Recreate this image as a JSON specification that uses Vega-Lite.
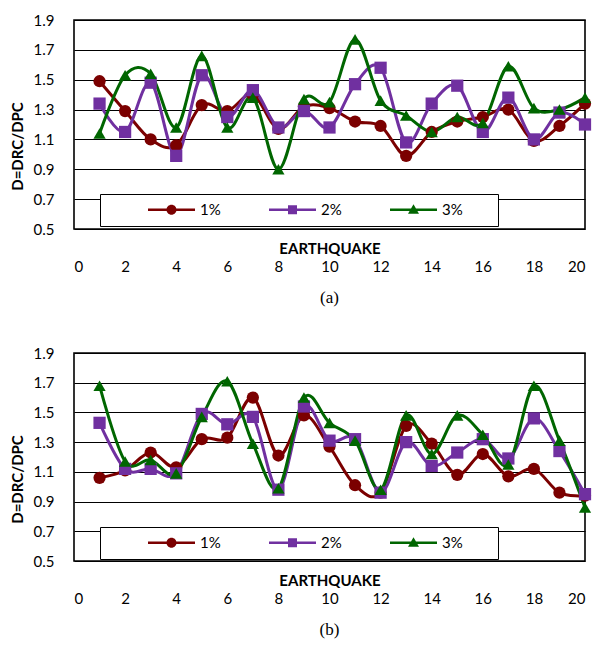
{
  "$schema": "https://vega.github.io/schema/vega-lite/v6.json",
  "padding": {"left": 9, "top": 12, "right": 5, "bottom": 5},
  "background": "white",
  "config": {
    "font": "Lato",
    "view": {"stroke": "black", "strokeWidth": 1.6},
    "axis": {"labelFont": "Lato", "labelFontSize": 15, "labelColor": "black", "titleFont": "Lato", "titleFontSize": 15, "titleFontWeight": "bold", "titleColor": "black", "ticks": false, "domain": false},
    "legend": {"orient": "none", "legendX": 26, "legendY": 174, "direction": "horizontal",
      "fillColor": "white", "strokeColor": "black", "padding": 8, "columnPadding": 8,
      "symbolSize": 100, "symbolOffset": 56, "labelOffset": 21, "labelFont": "Lato", "labelFontSize": 15, "labelColor": "black", "symbolOpacity": 1}
  },
  "datasets": {
    "a": [
      {"eq":1,"pct":"1%","D":1.49},{"eq":2,"pct":"1%","D":1.29},{"eq":3,"pct":"1%","D":1.10},{"eq":4,"pct":"1%","D":1.06},{"eq":5,"pct":"1%","D":1.33},
      {"eq":6,"pct":"1%","D":1.29},{"eq":7,"pct":"1%","D":1.40},{"eq":8,"pct":"1%","D":1.17},{"eq":9,"pct":"1%","D":1.32},{"eq":10,"pct":"1%","D":1.31},
      {"eq":11,"pct":"1%","D":1.22},{"eq":12,"pct":"1%","D":1.19},{"eq":13,"pct":"1%","D":0.99},{"eq":14,"pct":"1%","D":1.15},{"eq":15,"pct":"1%","D":1.22},
      {"eq":16,"pct":"1%","D":1.25},{"eq":17,"pct":"1%","D":1.30},{"eq":18,"pct":"1%","D":1.09},{"eq":19,"pct":"1%","D":1.19},{"eq":20,"pct":"1%","D":1.34},
      {"eq":1,"pct":"2%","D":1.34},{"eq":2,"pct":"2%","D":1.15},{"eq":3,"pct":"2%","D":1.48},{"eq":4,"pct":"2%","D":0.99},{"eq":5,"pct":"2%","D":1.53},
      {"eq":6,"pct":"2%","D":1.25},{"eq":7,"pct":"2%","D":1.43},{"eq":8,"pct":"2%","D":1.18},{"eq":9,"pct":"2%","D":1.29},{"eq":10,"pct":"2%","D":1.18},
      {"eq":11,"pct":"2%","D":1.47},{"eq":12,"pct":"2%","D":1.58},{"eq":13,"pct":"2%","D":1.08},{"eq":14,"pct":"2%","D":1.34},{"eq":15,"pct":"2%","D":1.46},
      {"eq":16,"pct":"2%","D":1.15},{"eq":17,"pct":"2%","D":1.38},{"eq":18,"pct":"2%","D":1.10},{"eq":19,"pct":"2%","D":1.28},{"eq":20,"pct":"2%","D":1.20},
      {"eq":1,"pct":"3%","D":1.14},{"eq":2,"pct":"3%","D":1.53},{"eq":3,"pct":"3%","D":1.54},{"eq":4,"pct":"3%","D":1.18},{"eq":5,"pct":"3%","D":1.66},
      {"eq":6,"pct":"3%","D":1.18},{"eq":7,"pct":"3%","D":1.38},{"eq":8,"pct":"3%","D":0.90},{"eq":9,"pct":"3%","D":1.37},{"eq":10,"pct":"3%","D":1.35},
      {"eq":11,"pct":"3%","D":1.77},{"eq":12,"pct":"3%","D":1.36},{"eq":13,"pct":"3%","D":1.26},{"eq":14,"pct":"3%","D":1.15},{"eq":15,"pct":"3%","D":1.25},
      {"eq":16,"pct":"3%","D":1.21},{"eq":17,"pct":"3%","D":1.59},{"eq":18,"pct":"3%","D":1.31},{"eq":19,"pct":"3%","D":1.30},{"eq":20,"pct":"3%","D":1.38}
    ],
    "b": [
      {"eq":1,"pct":"1%","D":1.06},{"eq":2,"pct":"1%","D":1.11},{"eq":3,"pct":"1%","D":1.23},{"eq":4,"pct":"1%","D":1.13},{"eq":5,"pct":"1%","D":1.32},
      {"eq":6,"pct":"1%","D":1.33},{"eq":7,"pct":"1%","D":1.60},{"eq":8,"pct":"1%","D":1.21},{"eq":9,"pct":"1%","D":1.48},{"eq":10,"pct":"1%","D":1.27},
      {"eq":11,"pct":"1%","D":1.01},{"eq":12,"pct":"1%","D":0.96},{"eq":13,"pct":"1%","D":1.41},{"eq":14,"pct":"1%","D":1.29},{"eq":15,"pct":"1%","D":1.08},
      {"eq":16,"pct":"1%","D":1.22},{"eq":17,"pct":"1%","D":1.07},{"eq":18,"pct":"1%","D":1.12},{"eq":19,"pct":"1%","D":0.96},{"eq":20,"pct":"1%","D":0.94},
      {"eq":1,"pct":"2%","D":1.43},{"eq":2,"pct":"2%","D":1.12},{"eq":3,"pct":"2%","D":1.12},{"eq":4,"pct":"2%","D":1.09},{"eq":5,"pct":"2%","D":1.49},
      {"eq":6,"pct":"2%","D":1.42},{"eq":7,"pct":"2%","D":1.47},{"eq":8,"pct":"2%","D":0.98},{"eq":9,"pct":"2%","D":1.54},{"eq":10,"pct":"2%","D":1.31},
      {"eq":11,"pct":"2%","D":1.32},{"eq":12,"pct":"2%","D":0.96},{"eq":13,"pct":"2%","D":1.30},{"eq":14,"pct":"2%","D":1.14},{"eq":15,"pct":"2%","D":1.23},
      {"eq":16,"pct":"2%","D":1.32},{"eq":17,"pct":"2%","D":1.19},{"eq":18,"pct":"2%","D":1.46},{"eq":19,"pct":"2%","D":1.24},{"eq":20,"pct":"2%","D":0.95},
      {"eq":1,"pct":"3%","D":1.68},{"eq":2,"pct":"3%","D":1.17},{"eq":3,"pct":"3%","D":1.18},{"eq":4,"pct":"3%","D":1.09},{"eq":5,"pct":"3%","D":1.47},
      {"eq":6,"pct":"3%","D":1.71},{"eq":7,"pct":"3%","D":1.29},{"eq":8,"pct":"3%","D":0.99},{"eq":9,"pct":"3%","D":1.60},{"eq":10,"pct":"3%","D":1.43},
      {"eq":11,"pct":"3%","D":1.31},{"eq":12,"pct":"3%","D":0.98},{"eq":13,"pct":"3%","D":1.48},{"eq":14,"pct":"3%","D":1.22},{"eq":15,"pct":"3%","D":1.48},
      {"eq":16,"pct":"3%","D":1.35},{"eq":17,"pct":"3%","D":1.15},{"eq":18,"pct":"3%","D":1.68},{"eq":19,"pct":"3%","D":1.31},{"eq":20,"pct":"3%","D":0.86}
    ]
  },
  "spacing": 38,
  "resolve": {"scale": {"color": "independent", "stroke": "independent", "shape": "independent"}, "legend": {"color": "independent", "shape": "independent"}},
  "vconcat": [
    {
      "width": 511, "height": 209,
      "data": {"name": "a"},
      "title": {"text": "(a)", "orient": "bottom", "font": "Liberation Serif", "fontSize": 17, "fontWeight": "normal", "color": "black", "offset": 16},
      "encoding": {
        "x": {"field": "eq", "type": "quantitative", "scale": {"domain": [0, 20], "nice": false},
              "axis": {"values": [0,2,4,6,8,10,12,14,16,18,20], "grid": false, "labelBaseline": "middle", "labelPadding": 37, "title": "EARTHQUAKE", "titleY": 19, "titleBaseline": "middle"}},
        "y": {"field": "D", "type": "quantitative", "scale": {"domain": [0.5, 1.9], "nice": false, "zero": false},
              "axis": {"values": [0.5,0.7,0.9,1.1,1.3,1.5,1.7,1.9], "format": ".1f", "grid": true, "gridColor": "black", "gridWidth": 1.2, "labelPadding": 20, "title": "D=DRC/DPC", "titleX": -57, "titleY": 126, "titleBaseline": "middle"}}
      },
      "layer": [
        {"mark": {"type": "line", "interpolate": "cardinal", "strokeWidth": 3},
         "encoding": {"stroke": {"field": "pct", "type": "nominal", "scale": {"domain": ["3%","2%","1%"], "range": ["#006600","#7030A0","#7B0000"]}, "legend": null}}},
        {"transform": [{"filter": {"field": "pct", "equal": "1%"}}],
         "mark": {"type": "point", "shape": "circle", "filled": true, "opacity": 1, "size": 150, "color": "#7B0000"}},
        {"transform": [{"filter": {"field": "pct", "equal": "2%"}}],
         "mark": {"type": "point", "shape": "square", "filled": true, "opacity": 1, "size": 150, "color": "#7030A0"}},
        {"transform": [{"filter": {"field": "pct", "equal": "3%"}}],
         "mark": {"type": "point", "shape": "triangle-up", "filled": true, "opacity": 1, "size": 150, "color": "#006600"}},
        {"transform": [{"filter": "false"}],
         "mark": {"type": "point", "filled": true, "opacity": 1},
         "encoding": {
           "color": {"field": "pct", "type": "nominal", "scale": {"domain": ["1%","2%","3%"], "range": ["#7B0000","#7030A0","#006600"]},
             "legend": {"title": "\u00a0", "titleOrient": "right", "titlePadding": 27, "titleFontSize": 11}},
           "shape": {"field": "pct", "type": "nominal", "title": "\u00a0", "scale": {"domain": ["1%","2%","3%"], "range": [
             "M-4.7,-0.24H4.7V0.24H-4.7Z M1,0A1,1,0,1,1,-1,0A1,1,0,1,1,1,0Z",
             "M-4.7,-0.24H4.7V0.24H-4.7Z M-0.9,-0.9H0.9V0.9H-0.9Z",
             "M-4.7,-0.24H4.7V0.24H-4.7Z M0,-1.1L1.1,0.8H-1.1Z"]}}
         }}
      ]
    },
    {
      "width": 511, "height": 208,
      "data": {"name": "b"},
      "title": {"text": "(b)", "orient": "bottom", "font": "Liberation Serif", "fontSize": 17, "fontWeight": "normal", "color": "black", "offset": 16},
      "encoding": {
        "x": {"field": "eq", "type": "quantitative", "scale": {"domain": [0, 20], "nice": false},
              "axis": {"values": [0,2,4,6,8,10,12,14,16,18,20], "grid": false, "labelBaseline": "middle", "labelPadding": 37, "title": "EARTHQUAKE", "titleY": 19, "titleBaseline": "middle"}},
        "y": {"field": "D", "type": "quantitative", "scale": {"domain": [0.5, 1.9], "nice": false, "zero": false},
              "axis": {"values": [0.5,0.7,0.9,1.1,1.3,1.5,1.7,1.9], "format": ".1f", "grid": true, "gridColor": "black", "gridWidth": 1.2, "labelPadding": 20, "title": "D=DRC/DPC", "titleX": -57, "titleY": 126, "titleBaseline": "middle"}}
      },
      "layer": [
        {"mark": {"type": "line", "interpolate": "cardinal", "strokeWidth": 3},
         "encoding": {"stroke": {"field": "pct", "type": "nominal", "scale": {"domain": ["3%","2%","1%"], "range": ["#006600","#7030A0","#7B0000"]}, "legend": null}}},
        {"transform": [{"filter": {"field": "pct", "equal": "1%"}}],
         "mark": {"type": "point", "shape": "circle", "filled": true, "opacity": 1, "size": 150, "color": "#7B0000"}},
        {"transform": [{"filter": {"field": "pct", "equal": "2%"}}],
         "mark": {"type": "point", "shape": "square", "filled": true, "opacity": 1, "size": 150, "color": "#7030A0"}},
        {"transform": [{"filter": {"field": "pct", "equal": "3%"}}],
         "mark": {"type": "point", "shape": "triangle-up", "filled": true, "opacity": 1, "size": 150, "color": "#006600"}},
        {"transform": [{"filter": "false"}],
         "mark": {"type": "point", "filled": true, "opacity": 1},
         "encoding": {
           "color": {"field": "pct", "type": "nominal", "scale": {"domain": ["1%","2%","3%"], "range": ["#7B0000","#7030A0","#006600"]},
             "legend": {"title": "\u00a0", "titleOrient": "right", "titlePadding": 27, "titleFontSize": 11}},
           "shape": {"field": "pct", "type": "nominal", "title": "\u00a0", "scale": {"domain": ["1%","2%","3%"], "range": [
             "M-4.7,-0.24H4.7V0.24H-4.7Z M1,0A1,1,0,1,1,-1,0A1,1,0,1,1,1,0Z",
             "M-4.7,-0.24H4.7V0.24H-4.7Z M-0.9,-0.9H0.9V0.9H-0.9Z",
             "M-4.7,-0.24H4.7V0.24H-4.7Z M0,-1.1L1.1,0.8H-1.1Z"]}}
         }}
      ]
    }
  ]
}
